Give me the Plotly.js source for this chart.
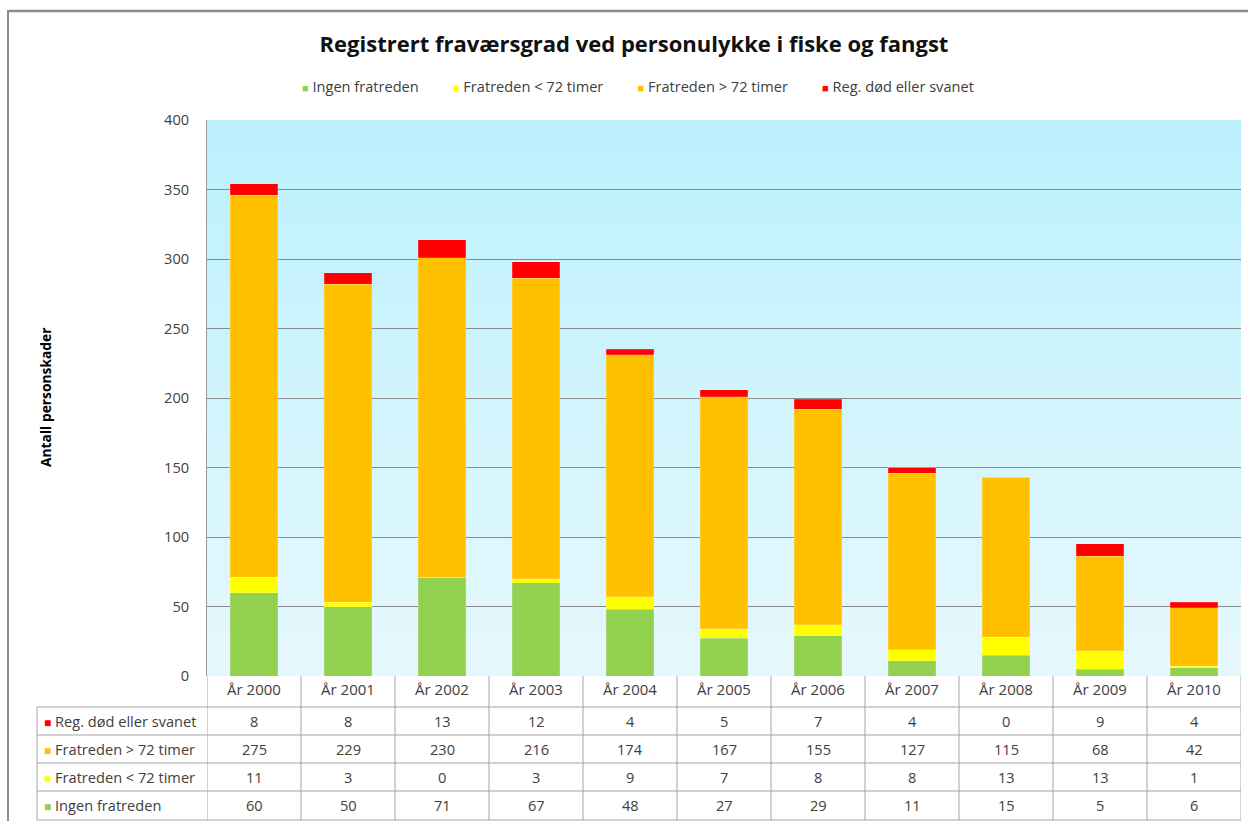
<!DOCTYPE html>
<html>
<head>
<meta charset="utf-8">
<script src="https://cdn.plot.ly/plotly-3.0.1.min.js"></script>
<style>html,body{margin:0;padding:0;background:#fff;}#chart{width:1248px;height:821px;}</style>
</head>
<body>
<div id="chart"></div>
<script>
// ---- data ----
const years = ['År 2000','År 2001','År 2002','År 2003','År 2004','År 2005','År 2006','År 2007','År 2008','År 2009','År 2010'];
const ingenFratreden = [60, 50, 71, 67, 48, 27, 29, 11, 15, 5, 6];
const fratredenUnder72 = [11, 3, 0, 3, 9, 7, 8, 8, 13, 13, 1];
const fratredenOver72 = [275, 229, 230, 216, 174, 167, 155, 127, 115, 68, 42];
const regDod = [8, 8, 13, 12, 4, 5, 7, 4, 0, 9, 4];
const seriesNames = ['Ingen fratreden', 'Fratreden < 72 timer', 'Fratreden > 72 timer', 'Reg. død eller svanet'];
const yTicks = [0, 50, 100, 150, 200, 250, 300, 350, 400];

const colors = ['#92d050', '#ffff00', '#ffc000', '#ff0000'];
const seriesValues = [ingenFratreden, fratredenUnder72, fratredenOver72, regDod];

const FONT = '"Open Sans", Lato, sans-serif';
const TXT = '#404040';

// geometry helpers (pixel -> paper)
const L = 207, R = 1241, T = 120, B = 676;
const W = R - L, H = B - T;
const px = x => (x - L) / W;
const py = y => (B - y) / H;

const traces = seriesValues.map((vals, i) => ({
  type: 'bar',
  x: years,
  y: vals,
  name: seriesNames[i],
  marker: {color: colors[i], line: {color: 'rgba(255,255,255,0.35)', width: 0.5}},
  showlegend: false,
  hoverinfo: 'x+y+name'
}));

const shapes = [];
const annotations = [];

// outer frame
shapes.push({type:'line', xref:'paper', yref:'paper', x0:px(8), x1:px(1250), y0:py(11), y1:py(11), line:{color:'#8c8c8c', width:2.5}});
shapes.push({type:'line', xref:'paper', yref:'paper', x0:px(8), x1:px(8), y0:py(10), y1:py(825), line:{color:'#8c8c8c', width:2}});

// table grid
const tableLineColor = '#a6a6a6';
const rowLines = [707, 735, 763, 791, 820];
rowLines.forEach(y => shapes.push({type:'line', xref:'paper', yref:'paper', x0:px(37), x1:1, y0:py(y), y1:py(y), line:{color:tableLineColor, width:1}}));
shapes.push({type:'line', xref:'paper', yref:'paper', x0:px(37), x1:px(37), y0:py(707), y1:py(820), line:{color:tableLineColor, width:1}});
for (let k = 0; k <= years.length; k++) {
  shapes.push({type:'line', xref:'x', yref:'paper', x0:k-0.5, x1:k-0.5, y0:0, y1:py(820), line:{color:tableLineColor, width:1}});
}

// table rows (top to bottom: red, orange, yellow, green)
const rowOrder = [3, 2, 1, 0];
const rowCenters = [721, 749, 777, 805];
rowOrder.forEach((si, r) => {
  annotations.push({
    xref:'paper', yref:'paper', x:px(42), y:py(rowCenters[r]), xanchor:'left', yanchor:'middle', showarrow:false,
    text:'<span style="color:' + colors[si] + ';font-size:12px">■</span> ' + seriesNames[si],
    font:{family:FONT, size:14.6, color:TXT}
  });
  years.forEach((yr, j) => {
    annotations.push({
      xref:'x', yref:'paper', x:yr, y:py(rowCenters[r]), xanchor:'center', yanchor:'middle', showarrow:false,
      text:String(seriesValues[si][j]), font:{family:FONT, size:14.6, color:TXT}
    });
  });
});

// top legend as a single line
const sp = '&nbsp;'.repeat(9);
annotations.push({
  xref:'paper', yref:'paper', x:px(638), y:py(86), xanchor:'center', yanchor:'middle', showarrow:false,
  text: [0,1,2,3].map(i => '<span style="color:' + colors[i] + ';font-size:11px">■</span> ' + seriesNames[i]).join(sp),
  font:{family:FONT, size:14.6, color:TXT}
});

// y-axis title
annotations.push({
  xref:'paper', yref:'paper', x:px(45), y:0.5, xanchor:'center', yanchor:'middle', showarrow:false, textangle:-90,
  text:'<b>Antall personskader</b>', font:{family:FONT, size:13.8, color:'#000'}
});

// gradient background
const svg = '<svg xmlns="http://www.w3.org/2000/svg" width="100" height="100" preserveAspectRatio="none">' +
  '<defs><linearGradient id="g" x1="0" y1="0" x2="0" y2="1"><stop offset="0" stop-color="#bbf0fd"/><stop offset="1" stop-color="#e6f8fc"/></linearGradient></defs>' +
  '<rect width="100" height="100" fill="url(#g)"/></svg>';
const bgImg = 'data:image/svg+xml;base64,' + btoa(svg);

const layout = {
  width: 1248, height: 821,
  margin: {l: L, r: 1248 - R, t: T, b: 821 - B, pad: 0},
  paper_bgcolor: '#ffffff',
  plot_bgcolor: 'rgba(0,0,0,0)',
  barmode: 'stack',
  bargap: 0.49,
  font: {family: FONT, color: TXT},
  title: {
    text: '<b>Registrert fraværsgrad ved personulykke i fiske og fangst</b>',
    font: {family: FONT, size: 22, color: '#111'},
    x: 634 / 1248, xref: 'container', xanchor: 'center',
    y: 1 - 44 / 821, yref: 'container', yanchor: 'middle'
  },
  xaxis: {
    type: 'category',
    range: [-0.5, years.length - 0.5],
    showgrid: false, zeroline: false, showline: false,
    ticks: '', tickfont: {family: FONT, size: 15, color: TXT},
    ticklabelstandoff: 3,
    fixedrange: true
  },
  yaxis: {
    range: [0, 400], tickvals: yTicks, ticktext: yTicks.map(String),
    showgrid: true, gridcolor: '#8c8c8c', gridwidth: 1,
    zeroline: false, showline: true, linecolor: '#9a9a9a', linewidth: 1,
    ticks: '', tickfont: {family: FONT, size: 14.6, color: TXT},
    ticklabelstandoff: 14,
    fixedrange: true
  },
  images: [{source: bgImg, xref: 'paper', yref: 'paper', x: 0, y: 1, sizex: 1, sizey: 1, sizing: 'stretch', layer: 'below', xanchor: 'left', yanchor: 'top'}],
  shapes: shapes,
  annotations: annotations,
  showlegend: false
};

Plotly.newPlot('chart', traces, layout, {displayModeBar: false, staticPlot: true});
</script>
</body>
</html>
